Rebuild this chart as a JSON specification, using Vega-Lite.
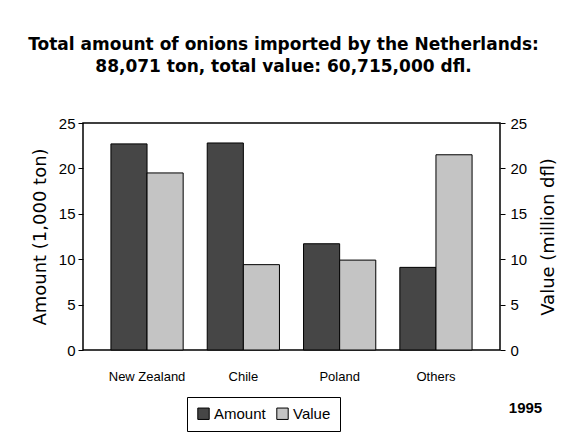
{
  "$schema": "https://vega.github.io/schema/vega-lite/v6.json",
  "width": 417,
  "height": 227,
  "autosize": {"type": "none"},
  "padding": {"left": 83, "top": 123, "right": 75, "bottom": 95},
  "background": "white",
  "title": {
    "text": ["Total amount of onions imported by the Netherlands:", "88,071 ton, total value: 60,715,000 dfl."],
    "font": "DejaVu Sans",
    "fontSize": 17,
    "fontWeight": "bold",
    "color": "black",
    "lineHeight": 22,
    "offset": 40,
    "dx": -8,
    "anchor": "middle"
  },
  "data": {
    "values": [
      {"country": "New  Zealand", "series": "Amount", "value": 22.7},
      {"country": "New  Zealand", "series": "Value", "value": 19.5},
      {"country": "Chile", "series": "Amount", "value": 22.8},
      {"country": "Chile", "series": "Value", "value": 9.4},
      {"country": "Poland", "series": "Amount", "value": 11.7},
      {"country": "Poland", "series": "Value", "value": 9.9},
      {"country": "Others", "series": "Amount", "value": 9.1},
      {"country": "Others", "series": "Value", "value": 21.5}
    ]
  },
  "encoding": {
    "x": {
      "field": "country",
      "type": "nominal",
      "sort": null,
      "scale": {"paddingInner": 0.25, "paddingOuter": 0.29},
      "axis": {
        "title": "1995",
        "titleFont": "Liberation Sans",
        "titleFontSize": 15,
        "titleFontWeight": "bold",
        "titleColor": "black",
        "titleX": 442,
        "titleY": 62,
        "titleAlign": "center",
        "titleBaseline": "alphabetic",
        "labelAngle": 0,
        "labelFont": "Liberation Sans",
        "labelFontSize": 13,
        "labelColor": "black",
        "labelPadding": 20,
        "ticks": false,
        "domain": false
      }
    },
    "xOffset": {"field": "series", "type": "nominal", "scale": {"domain": ["Amount", "Value"], "paddingInner": 0, "paddingOuter": 0}},
    "color": {
      "field": "series",
      "type": "nominal",
      "scale": {"domain": ["Amount", "Value"], "range": ["#464646", "#c4c4c4"]},
      "legend": {
        "title": null,
        "orient": "none",
        "direction": "horizontal",
        "legendX": 104,
        "legendY": 274,
        "symbolType": "square",
        "symbolSize": 130,
        "symbolStrokeColor": "black",
        "symbolStrokeWidth": 1,
        "labelFont": "Liberation Sans",
        "labelFontSize": 15,
        "labelColor": "black",
        "labelOffset": 3,
        "columnPadding": 8,
        "padding": 9,
        "strokeColor": "black",
        "fillColor": "white"
      }
    }
  },
  "layer": [
    {
      "transform": [{"filter": "datum.series === 'Amount'"}],
      "mark": {"type": "bar", "stroke": "black", "strokeWidth": 1},
      "encoding": {
        "y": {
          "field": "value",
          "type": "quantitative",
          "scale": {"domain": [0, 25]},
          "axis": {
            "orient": "left",
            "title": "Amount (1,000 ton)",
            "values": [0, 5, 10, 15, 20, 25],
            "grid": false,
            "domain": false,
            "tickSize": 5,
            "tickColor": "black",
            "labelPadding": 3,
            "labelFont": "Liberation Sans",
            "labelFontSize": 15,
            "labelColor": "black",
            "titleFont": "DejaVu Sans",
            "titleFontSize": 18,
            "titleFontWeight": "normal",
            "titleColor": "black",
            "titlePadding": 9
          }
        }
      }
    },
    {
      "transform": [{"filter": "datum.series === 'Value'"}],
      "mark": {"type": "bar", "stroke": "black", "strokeWidth": 1},
      "encoding": {
        "y": {
          "field": "value",
          "type": "quantitative",
          "scale": {"domain": [0, 25]},
          "axis": {
            "orient": "right",
            "title": "Value (million dfl)",
            "values": [0, 5, 10, 15, 20, 25],
            "grid": false,
            "domain": false,
            "tickSize": 5,
            "tickColor": "black",
            "labelPadding": 5,
            "labelFont": "Liberation Sans",
            "labelFontSize": 15,
            "labelColor": "black",
            "titleFont": "DejaVu Sans",
            "titleFontSize": 18,
            "titleFontWeight": "normal",
            "titleColor": "black",
            "titleAngle": 270,
            "titleBaseline": "top",
            "titlePadding": 13
          }
        }
      }
    }
  ],
  "resolve": {"scale": {"y": "independent"}},
  "config": {
    "view": {"stroke": "black", "strokeWidth": 1.5}
  }
}
